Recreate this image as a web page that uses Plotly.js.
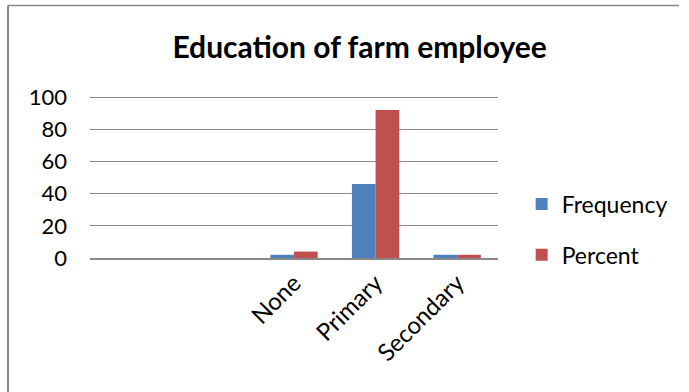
<!DOCTYPE html>
<html>
<head>
<meta charset="utf-8">
<script src="https://cdn.plot.ly/plotly-3.0.1.min.js"></script>
<style>
html,body{margin:0;padding:0;background:#fff;}
#chart{width:689px;height:392px;}
</style>
</head>
<body>
<div id="chart"></div>
<script>
const categories = ["", "", "None", "Primary", "Secondary"];
const frequency = [null, null, 2, 46, 2];
const percent = [null, null, 4, 92, 2];
const yTicks = [0, 20, 40, 60, 80, 100];

const idx = categories.map((c, i) => i);
const font = "Lato, 'Open Sans', sans-serif";

const traces = [
  {type: 'bar', name: 'Frequency', x: idx, y: frequency, marker: {color: '#4F81BD'}, legendgroup: 'a'},
  {type: 'bar', name: 'Percent', x: idx, y: percent, marker: {color: '#C0504D'}, legendgroup: 'b'}
];

const layout = {
  width: 689, height: 392,
  margin: {l: 90, r: 191, t: 94, b: 134},
  paper_bgcolor: '#fff', plot_bgcolor: '#fff',
  font: {family: font, size: 22, color: '#000'},
  title: {text: '<b>Education of farm employee</b>', font: {family: font, size: 30, color: '#000'},
          x: 0.522, xanchor: 'center', y: 1 - 47/392, yanchor: 'middle', yref: 'container'},
  barmode: 'group', bargap: 0.42, bargroupgap: 0,
  xaxis: {type: 'linear', range: [-0.5, 4.5], tickvals: idx, ticktext: categories, tickangle: -45,
          showgrid: false, zeroline: false, showline: true, linecolor: '#888', linewidth: 1.5,
          ticks: '', tickfont: {family: font, size: 24}, fixedrange: true},
  yaxis: {range: [0, 102], tickvals: yTicks, showgrid: true, gridcolor: '#8c8c8c', gridwidth: 1,
          zeroline: false, showline: false, ticks: '', ticklabelstandoff: 22,
          tickfont: {family: font, size: 22}, fixedrange: true},
  legend: {x: 1.058, xanchor: 'left', y: 0.174, yanchor: 'middle', font: {family: font, size: 23},
           traceorder: 'grouped', tracegroupgap: 18, bgcolor: 'rgba(0,0,0,0)'},
  showlegend: true,
  shapes: [
    {type: 'line', xref: 'paper', yref: 'paper', x0: (8-90)/408, x1: (679-90)/408, y0: (258-5.5)/164, y1: (258-5.5)/164, line: {color: '#888', width: 1.5}},
    {type: 'line', xref: 'paper', yref: 'paper', x0: (8-90)/408, x1: (8-90)/408, y0: (258-5.5)/164, y1: (258-393)/164, line: {color: '#888', width: 2}}
  ]
};

Plotly.newPlot('chart', traces, layout, {displayModeBar: false, staticPlot: true});
</script>
</body>
</html>
